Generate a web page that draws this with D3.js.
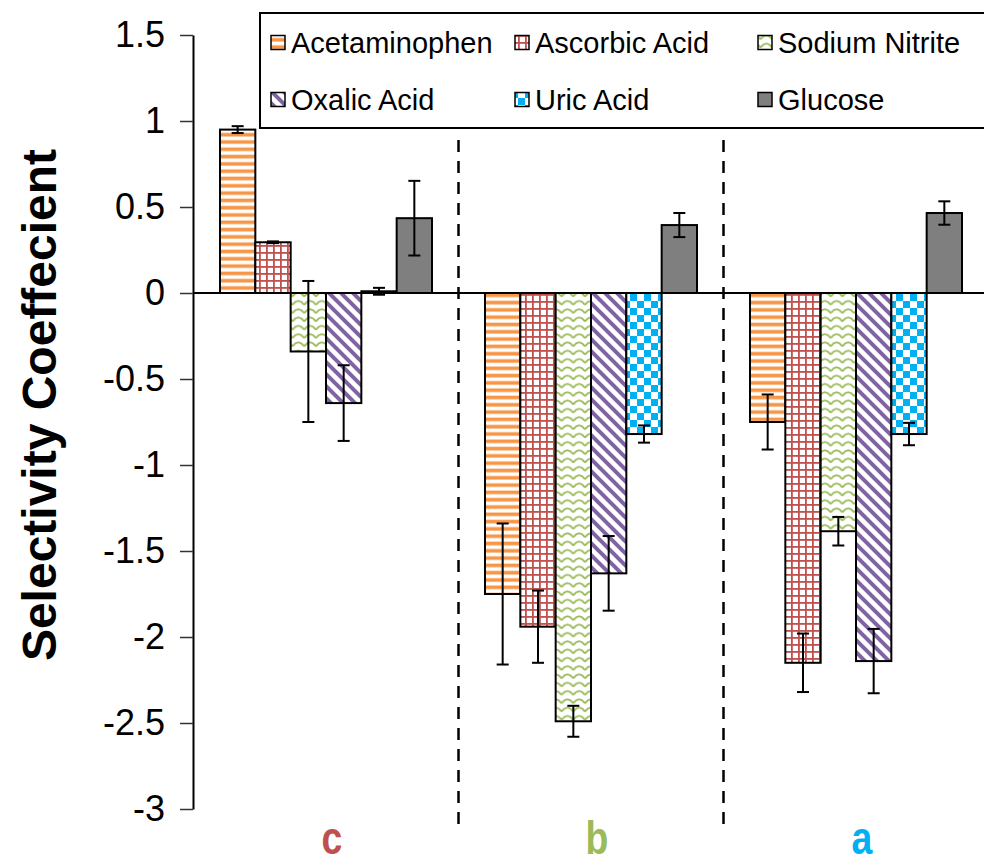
<!DOCTYPE html>
<html>
<head>
<meta charset="utf-8">
<script src="https://cdn.jsdelivr.net/npm/d3@7"></script>
<style>
  body { margin: 0; background: #fff; }
  svg { display: block; font-family: Arial, 'Liberation Sans', sans-serif; }
</style>
</head>
<body>
<div id="chart"></div>
<script>
const width = 984;
const height = 865;

// data
const groups = ['c', 'b', 'a'];
const groupColors = ['#C0504D', '#9BBB59', '#00B0F0'];
const seriesNames = ['Acetaminophen', 'Ascorbic Acid', 'Sodium Nitrite', 'Oxalic Acid', 'Uric Acid', 'Glucose'];

const acetaminophen = [0.95, -1.75, -0.75];
const ascorbicAcid = [0.295, -1.94, -2.15];
const sodiumNitrite = [-0.34, -2.49, -1.385];
const oxalicAcid = [-0.64, -1.63, -2.14];
const uricAcid = [0.01, -0.82, -0.82];
const glucose = [0.435, 0.395, 0.465];

const acetaminophenErr = [0.02, 0.41, 0.16];
const ascorbicAcidErr = [0.005, 0.21, 0.17];
const sodiumNitriteErr = [0.41, 0.09, 0.083];
const oxalicAcidErr = [0.22, 0.217, 0.187];
const uricAcidErr = [0.02, 0.05, 0.065];
const glucoseErr = [0.217, 0.07, 0.068];

const yTicks = [1.5, 1, 0.5, 0, -0.5, -1, -1.5, -2, -2.5, -3];

const seriesValues = [acetaminophen, ascorbicAcid, sodiumNitrite, oxalicAcid, uricAcid, glucose];
const seriesErrors = [acetaminophenErr, ascorbicAcidErr, sodiumNitriteErr, oxalicAcidErr, uricAcidErr, glucoseErr];
const patternIds = ['pHoriz', 'pGrid', 'pWave', 'pDiag', 'pCheck', 'pSolid'];

let rows = [];
groups.forEach((g, gi) => {
  seriesNames.forEach((s, si) => {
    rows.push({ group: g, series: s, si: si, value: seriesValues[si][gi], err: seriesErrors[si][gi] });
  });
});

const svg = d3
  .select('#chart')
  .append('svg')
  .attr('width', width)
  .attr('height', height);

// fill patterns (Excel-like)
const defs = svg.append('defs');

let p = defs.append('pattern').attr('id', 'pHoriz').attr('patternUnits', 'userSpaceOnUse')
  .attr('width', 8).attr('height', 7.3);
p.append('rect').attr('width', 8).attr('height', 7.3).attr('fill', '#fff');
p.append('rect').attr('y', 1.5).attr('width', 8).attr('height', 3.6).attr('fill', '#F79646');

p = defs.append('pattern').attr('id', 'pGrid').attr('patternUnits', 'userSpaceOnUse')
  .attr('width', 7).attr('height', 7);
p.append('rect').attr('width', 7).attr('height', 7).attr('fill', '#fff');
p.append('rect').attr('x', 0).attr('width', 1.8).attr('height', 7).attr('fill', '#C0504D');
p.append('rect').attr('y', 0).attr('width', 7).attr('height', 1.8).attr('fill', '#C0504D');

p = defs.append('pattern').attr('id', 'pWave').attr('patternUnits', 'userSpaceOnUse')
  .attr('width', 11.7).attr('height', 8.3);
p.append('rect').attr('width', 11.7).attr('height', 8.3).attr('fill', '#fff');
p.append('path').attr('d', 'M0,6 L2.9,3 L5.85,2 L8.8,3 L11.7,6')
  .attr('fill', 'none').attr('stroke', '#9BBB59').attr('stroke-width', 1.8);

p = defs.append('pattern').attr('id', 'pDiag').attr('patternUnits', 'userSpaceOnUse')
  .attr('width', 12).attr('height', 12);
p.append('rect').attr('width', 12).attr('height', 12).attr('fill', '#fff');
p.append('path').attr('d', 'M-3,-3 L15,15 M-3,9 L3,15 M9,-3 L15,3')
  .attr('stroke', '#8064A2').attr('stroke-width', 4);

p = defs.append('pattern').attr('id', 'pCheck').attr('patternUnits', 'userSpaceOnUse')
  .attr('width', 14).attr('height', 14);
p.append('rect').attr('width', 14).attr('height', 14).attr('fill', '#fff');
p.append('rect').attr('x', 0).attr('y', 0).attr('width', 7).attr('height', 7).attr('fill', '#00B0F0');
p.append('rect').attr('x', 7).attr('y', 7).attr('width', 7).attr('height', 7).attr('fill', '#00B0F0');

p = defs.append('pattern').attr('id', 'pSolid').attr('patternUnits', 'userSpaceOnUse')
  .attr('width', 4).attr('height', 4);
p.append('rect').attr('width', 4).attr('height', 4).attr('fill', '#7F7F7F');

// scales
let y = d3.scaleLinear().domain([-3, 1.5]).range([809, 35]);
let x0 = d3.scaleBand().domain(groups).range([193.5, 988.5]);
let x1 = d3.scaleBand().domain(seriesNames).range([0, x0.bandwidth()]).paddingOuter(0.75).paddingInner(0);

// group separators
svg.append('g')
  .selectAll('line')
  .data(groups.slice(1))
  .enter()
  .append('line')
  .attr('x1', (d) => x0(d))
  .attr('x2', (d) => x0(d))
  .attr('y1', 140)
  .attr('y2', 826)
  .attr('stroke', '#000')
  .attr('stroke-width', 2.5)
  .attr('stroke-dasharray', '12,9');

// bars
svg.append('g')
  .selectAll('rect')
  .data(rows)
  .enter()
  .append('rect')
  .attr('x', (d) => x0(d.group) + x1(d.series))
  .attr('width', x1.bandwidth())
  .attr('y', (d) => y(Math.max(0, d.value)))
  .attr('height', (d) => Math.abs(y(d.value) - y(0)))
  .attr('fill', (d) => 'url(#' + patternIds[d.si] + ')')
  .attr('stroke', '#000')
  .attr('stroke-width', 2);

// zero line
svg.append('line')
  .attr('x1', 193)
  .attr('x2', width)
  .attr('y1', y(0))
  .attr('y2', y(0))
  .attr('stroke', '#000')
  .attr('stroke-width', 2);

// error bars
const eb = svg.append('g').attr('stroke', '#000').attr('stroke-width', 2);
rows.forEach((d) => {
  const cx = x0(d.group) + x1(d.series) + x1.bandwidth() / 2;
  eb.append('line').attr('x1', cx).attr('x2', cx).attr('y1', y(d.value + d.err)).attr('y2', y(d.value - d.err));
  eb.append('line').attr('x1', cx - 6).attr('x2', cx + 6).attr('y1', y(d.value + d.err)).attr('y2', y(d.value + d.err));
  eb.append('line').attr('x1', cx - 6).attr('x2', cx + 6).attr('y1', y(d.value - d.err)).attr('y2', y(d.value - d.err));
});

// y axis
let yAxis = svg.append('g')
  .attr('transform', 'translate(193,0)')
  .call(d3.axisLeft(y).tickValues(yTicks).tickFormat((d) => String(d)).tickSize(13).tickSizeOuter(0).tickPadding(15));
yAxis.select('.domain').attr('stroke', '#000').attr('stroke-width', 2);
yAxis.selectAll('.tick line').attr('stroke', '#333').attr('stroke-width', 1.5);
yAxis.selectAll('.tick text')
  .attr('font-family', 'Arial, Liberation Sans, sans-serif')
  .attr('font-size', 36)
  .attr('fill', '#000');

// axis title
svg.append('text')
  .attr('transform', 'translate(56,405) rotate(-90)')
  .attr('text-anchor', 'middle')
  .attr('font-size', 48)
  .attr('font-weight', 'bold')
  .text('Selectivity Coeffecient');

// group labels
svg.append('g')
  .selectAll('text')
  .data(groups)
  .enter()
  .append('text')
  .attr('transform', (d) => 'translate(' + (x0(d) + x0.bandwidth() / 2 + 6) + ',854) scale(0.85,1.05)')
  .attr('text-anchor', 'middle')
  .attr('font-size', 44)
  .attr('font-weight', 'bold')
  .attr('fill', (d, i) => groupColors[i])
  .text((d) => d);

// legend
const legend = svg.append('g');
legend.append('rect')
  .attr('x', 260)
  .attr('y', 13)
  .attr('width', 740)
  .attr('height', 115)
  .attr('fill', '#fff')
  .attr('stroke', '#000')
  .attr('stroke-width', 2);

const legendCols = [271, 515, 758];
const legendRows = [42.5, 99.5];
seriesNames.forEach((s, i) => {
  const lx = legendCols[i % 3];
  const ly = legendRows[Math.floor(i / 3)];
  legend.append('rect')
    .attr('x', lx)
    .attr('y', ly - 7)
    .attr('width', 14)
    .attr('height', 14)
    .attr('fill', 'url(#' + patternIds[i] + ')')
    .attr('stroke', '#000')
    .attr('stroke-width', 1.5);
  legend.append('text')
    .attr('x', lx + 20)
    .attr('y', ly)
    .attr('dy', '0.35em')
    .attr('font-size', 29)
    .attr('fill', '#000')
    .text(s);
});
</script>
</body>
</html>
